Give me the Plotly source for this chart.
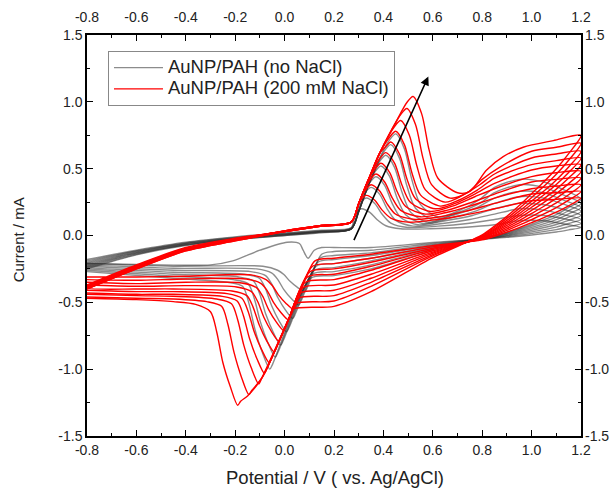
import plotly.graph_objects as go

# ---------------- data ----------------
x_ticks = [-0.8, -0.6, -0.4, -0.2, 0.0, 0.2, 0.4, 0.6, 0.8, 1.0, 1.2]
x_labels = ["-0.8", "-0.6", "-0.4", "-0.2", "0.0", "0.2", "0.4", "0.6", "0.8", "1.0", "1.2"]
y_ticks = [-1.5, -1.0, -0.5, 0.0, 0.5, 1.0, 1.5]
y_labels = ["-1.5", "-1.0", "-0.5", "0.0", "0.5", "1.0", "1.5"]

gray_name = "AuNP/PAH (no NaCl)"
red_name = "AuNP/PAH (200 mM NaCl)"

# forward (anodic) sweeps, no NaCl
gray_fwd_x = [
    [-0.8,-0.6,-0.4,-0.2,0.0,0.15,0.27,0.285,0.31,0.345,0.375,0.41,0.47,0.59,0.72,0.85,0.95,1.05,1.12,1.2],
    [-0.8,-0.6,-0.4,-0.2,0.0,0.15,0.27,0.305,0.33,0.365,0.395,0.43,0.50,0.62,0.74,0.85,0.95,1.05,1.12,1.2],
    [-0.8,-0.6,-0.4,-0.2,0.0,0.15,0.27,0.30,0.325,0.35,0.385,0.415,0.45,0.52,0.64,0.75,0.85,0.95,1.05,1.12,1.2],
    [-0.8,-0.6,-0.4,-0.2,0.0,0.15,0.27,0.30,0.345,0.37,0.405,0.435,0.47,0.54,0.65,0.76,0.85,0.95,1.05,1.12,1.2],
    [-0.8,-0.6,-0.4,-0.2,0.0,0.15,0.27,0.30,0.34,0.365,0.39,0.425,0.455,0.49,0.56,0.67,0.77,0.85,0.95,1.05,1.12,1.2],
    [-0.8,-0.6,-0.4,-0.2,0.0,0.15,0.27,0.30,0.34,0.385,0.41,0.445,0.475,0.51,0.58,0.68,0.78,0.85,0.95,1.05,1.12,1.2],
    [-0.8,-0.6,-0.4,-0.2,0.0,0.15,0.27,0.30,0.34,0.405,0.43,0.465,0.495,0.53,0.60,0.70,0.79,0.85,0.95,1.05,1.12,1.2],
    [-0.8,-0.6,-0.4,-0.2,0.0,0.15,0.27,0.30,0.34,0.39,0.425,0.45,0.485,0.515,0.55,0.62,0.71,0.79,0.85,0.95,1.05,1.12,1.2],
]
gray_fwd_y = [
    [-0.18,-0.11,-0.05,-0.01,0.02,0.04,0.06,0.155,0.20,0.173,0.118,0.073,0.05,0.05,0.06,0.08,0.11,0.11,0.09,0.06],
    [-0.19,-0.115,-0.055,-0.015,0.015,0.035,0.055,0.235,0.28,0.24,0.159,0.093,0.06,0.07,0.09,0.12,0.15,0.15,0.13,0.09],
    [-0.20,-0.12,-0.06,-0.02,0.01,0.03,0.05,0.18,0.315,0.36,0.308,0.20,0.113,0.07,0.09,0.12,0.16,0.20,0.19,0.16,0.12],
    [-0.21,-0.125,-0.06,-0.02,0.01,0.03,0.05,0.18,0.395,0.44,0.375,0.242,0.134,0.08,0.11,0.15,0.20,0.24,0.23,0.20,0.15],
    [-0.22,-0.13,-0.065,-0.025,0.005,0.03,0.05,0.18,0.38,0.475,0.52,0.443,0.283,0.155,0.09,0.13,0.18,0.24,0.29,0.28,0.24,0.18],
    [-0.23,-0.135,-0.07,-0.025,0.005,0.025,0.05,0.18,0.38,0.555,0.60,0.51,0.325,0.175,0.10,0.15,0.21,0.28,0.33,0.32,0.27,0.21],
    [-0.24,-0.14,-0.07,-0.03,0.0,0.025,0.05,0.18,0.38,0.635,0.68,0.579,0.372,0.204,0.12,0.17,0.24,0.32,0.38,0.36,0.31,0.24],
    [-0.25,-0.145,-0.075,-0.03,0.0,0.02,0.05,0.18,0.38,0.60,0.715,0.76,0.648,0.419,0.233,0.14,0.19,0.27,0.36,0.42,0.40,0.35,0.27],
]
# reverse (cathodic) sweeps, no NaCl
gray_rev_x = [
    [1.15,1.1,1.0,0.9,0.8,0.6,0.35,0.2,0.15,0.12,0.095,0.075,0.06,0.01,-0.1,-0.21,-0.3,-0.5,-0.8],
    [1.15,1.1,1.0,0.9,0.8,0.6,0.35,0.2,0.15,0.094,0.082,0.052,0.022,-0.003,-0.028,-0.088,-0.45,-0.8],
    [1.15,1.1,1.0,0.9,0.8,0.6,0.35,0.2,0.143,0.069,0.057,0.027,-0.003,-0.028,-0.053,-0.113,-0.45,-0.8],
    [1.15,1.1,1.0,0.9,0.8,0.6,0.35,0.2,0.135,0.045,0.033,0.003,-0.027,-0.052,-0.077,-0.137,-0.45,-0.8],
    [1.15,1.1,1.0,0.9,0.8,0.6,0.35,0.2,0.128,0.02,0.008,-0.022,-0.052,-0.077,-0.102,-0.162,-0.45,-0.8],
    [1.15,1.1,1.0,0.9,0.8,0.6,0.35,0.2,0.121,-0.004,-0.016,-0.046,-0.076,-0.101,-0.126,-0.186,-0.45,-0.8],
    [1.15,1.1,1.0,0.9,0.8,0.6,0.35,0.2,0.113,-0.026,-0.038,-0.068,-0.098,-0.123,-0.148,-0.208,-0.45,-0.8],
    [1.15,1.1,1.0,0.9,0.8,0.6,0.35,0.2,0.106,-0.048,-0.06,-0.09,-0.12,-0.145,-0.17,-0.23,-0.45,-0.8],
]
gray_rev_y = [
    [0.042,0.026,0.004,-0.014,-0.027,-0.052,-0.09,-0.09,-0.09,-0.11,-0.17,-0.11,-0.06,-0.05,-0.11,-0.19,-0.22,-0.22,-0.21],
    [0.066,0.044,0.016,-0.008,-0.026,-0.06,-0.11,-0.12,-0.14,-0.38,-0.42,-0.388,-0.343,-0.292,-0.26,-0.23,-0.23,-0.21],
    [0.09,0.063,0.027,-0.003,-0.026,-0.068,-0.13,-0.15,-0.17,-0.48,-0.52,-0.472,-0.405,-0.328,-0.28,-0.25,-0.245,-0.22],
    [0.114,0.082,0.038,0.002,-0.025,-0.075,-0.15,-0.18,-0.20,-0.58,-0.62,-0.556,-0.466,-0.364,-0.30,-0.27,-0.26,-0.23],
    [0.138,0.10,0.05,0.008,-0.024,-0.082,-0.17,-0.21,-0.23,-0.68,-0.72,-0.64,-0.528,-0.40,-0.32,-0.29,-0.275,-0.24],
    [0.162,0.119,0.061,0.013,-0.023,-0.09,-0.19,-0.24,-0.26,-0.78,-0.82,-0.724,-0.59,-0.436,-0.34,-0.31,-0.29,-0.25],
    [0.186,0.137,0.073,0.019,-0.022,-0.10,-0.22,-0.27,-0.29,-0.87,-0.91,-0.80,-0.646,-0.47,-0.36,-0.33,-0.305,-0.26],
    [0.21,0.156,0.084,0.024,-0.021,-0.113,-0.25,-0.30,-0.32,-0.96,-1.00,-0.876,-0.702,-0.504,-0.38,-0.35,-0.32,-0.27],
]

# forward (anodic) sweeps, 200 mM NaCl
red_fwd_x = [
    [-0.8,-0.6,-0.4,-0.2,0.0,0.15,0.27,0.305,0.33,0.365,0.395,0.43,0.50,0.62,0.72,0.85,1.0,1.1,1.2],
    [-0.8,-0.6,-0.4,-0.2,0.0,0.15,0.27,0.30,0.325,0.35,0.385,0.415,0.45,0.53,0.63,0.73,0.85,1.0,1.1,1.2],
    [-0.8,-0.6,-0.4,-0.2,0.0,0.15,0.27,0.30,0.345,0.37,0.405,0.435,0.47,0.55,0.65,0.75,0.85,1.0,1.1,1.2],
    [-0.8,-0.6,-0.4,-0.2,0.0,0.15,0.27,0.30,0.34,0.365,0.39,0.425,0.455,0.49,0.57,0.66,0.76,0.85,1.0,1.1,1.2],
    [-0.8,-0.6,-0.4,-0.2,0.0,0.15,0.27,0.30,0.34,0.385,0.41,0.445,0.475,0.51,0.59,0.68,0.77,0.85,1.0,1.1,1.2],
    [-0.8,-0.6,-0.4,-0.2,0.0,0.15,0.27,0.30,0.34,0.386,0.405,0.43,0.465,0.495,0.53,0.61,0.69,0.77,0.85,1.0,1.1,1.2],
    [-0.8,-0.6,-0.4,-0.2,0.0,0.15,0.27,0.30,0.34,0.386,0.425,0.45,0.485,0.515,0.55,0.63,0.70,0.78,0.85,1.0,1.1,1.2],
    [-0.8,-0.6,-0.4,-0.2,0.0,0.15,0.27,0.30,0.34,0.386,0.445,0.47,0.505,0.535,0.57,0.65,0.72,0.79,0.85,1.0,1.1,1.2],
    [-0.8,-0.6,-0.4,-0.2,0.0,0.15,0.27,0.30,0.34,0.386,0.454,0.47,0.495,0.53,0.56,0.595,0.67,0.74,0.80,0.87,1.0,1.1,1.2],
    [-0.8,-0.6,-0.4,-0.2,0.0,0.15,0.27,0.30,0.34,0.386,0.454,0.495,0.52,0.555,0.585,0.62,0.70,0.75,0.818,0.885,0.966,1.088,1.2],
]
red_fwd_y = [
    [-0.37,-0.22,-0.09,-0.02,0.03,0.07,0.10,0.255,0.30,0.264,0.19,0.13,0.10,0.12,0.15,0.20,0.26,0.27,0.28],
    [-0.375,-0.225,-0.095,-0.025,0.03,0.07,0.10,0.24,0.335,0.38,0.333,0.237,0.159,0.12,0.14,0.18,0.24,0.31,0.32,0.33],
    [-0.38,-0.23,-0.10,-0.03,0.03,0.07,0.10,0.24,0.415,0.46,0.40,0.284,0.188,0.14,0.17,0.22,0.28,0.35,0.37,0.38],
    [-0.385,-0.235,-0.10,-0.03,0.03,0.07,0.10,0.24,0.42,0.495,0.54,0.472,0.331,0.217,0.16,0.19,0.25,0.31,0.40,0.42,0.43],
    [-0.39,-0.235,-0.105,-0.03,0.035,0.075,0.10,0.24,0.42,0.575,0.62,0.541,0.378,0.246,0.18,0.22,0.29,0.35,0.44,0.47,0.48],
    [-0.39,-0.24,-0.105,-0.035,0.035,0.075,0.10,0.24,0.42,0.62,0.655,0.70,0.61,0.425,0.275,0.20,0.24,0.31,0.39,0.49,0.52,0.53],
    [-0.395,-0.24,-0.11,-0.035,0.035,0.075,0.10,0.24,0.42,0.62,0.735,0.78,0.68,0.472,0.304,0.22,0.26,0.34,0.43,0.53,0.56,0.58],
    [-0.40,-0.245,-0.11,-0.035,0.035,0.075,0.10,0.24,0.42,0.62,0.815,0.86,0.75,0.524,0.341,0.25,0.30,0.38,0.46,0.58,0.61,0.63],
    [-0.40,-0.25,-0.115,-0.04,0.03,0.075,0.10,0.24,0.42,0.62,0.86,0.905,0.95,0.83,0.581,0.38,0.28,0.32,0.42,0.51,0.63,0.66,0.69],
    [-0.40,-0.25,-0.115,-0.04,0.03,0.075,0.10,0.24,0.42,0.62,0.86,0.995,1.04,0.91,0.64,0.43,0.32,0.33,0.49,0.59,0.66,0.71,0.75],
]
# reverse (cathodic) sweeps, 200 mM NaCl
red_rev_x = [
    [1.15,1.1,1.05,1.0,0.95,0.9,0.85,0.8,0.6,0.35,0.2,0.123,0.047,0.035,0.005,-0.025,-0.05,-0.075,-0.135,-0.4,-0.6,-0.8],
    [1.15,1.1,1.05,1.0,0.95,0.9,0.85,0.8,0.6,0.35,0.2,0.113,0.027,0.015,-0.015,-0.045,-0.07,-0.095,-0.155,-0.4,-0.6,-0.8],
    [1.15,1.1,1.05,1.0,0.95,0.9,0.85,0.8,0.6,0.35,0.2,0.103,0.02,0.008,-0.004,-0.034,-0.064,-0.089,-0.114,-0.174,-0.4,-0.6,-0.8],
    [1.15,1.1,1.05,1.0,0.95,0.9,0.85,0.8,0.6,0.35,0.2,0.093,0.02,-0.012,-0.024,-0.054,-0.084,-0.109,-0.134,-0.194,-0.4,-0.6,-0.8],
    [1.15,1.1,1.05,1.0,0.95,0.9,0.85,0.8,0.6,0.35,0.2,0.084,0.02,-0.031,-0.043,-0.073,-0.103,-0.128,-0.153,-0.213,-0.45,-0.6,-0.8],
    [1.15,1.1,1.05,1.0,0.95,0.9,0.85,0.8,0.6,0.35,0.2,0.074,0.02,-0.051,-0.063,-0.093,-0.123,-0.148,-0.173,-0.233,-0.45,-0.6,-0.8],
    [1.15,1.1,1.05,1.0,0.95,0.9,0.85,0.8,0.6,0.35,0.2,0.064,0.02,-0.07,-0.082,-0.112,-0.142,-0.167,-0.192,-0.252,-0.45,-0.6,-0.8],
    [1.15,1.1,1.05,1.0,0.95,0.9,0.85,0.8,0.6,0.35,0.2,0.054,0.02,-0.093,-0.105,-0.135,-0.165,-0.19,-0.215,-0.275,-0.45,-0.6,-0.8],
    [1.15,1.1,1.05,1.0,0.95,0.9,0.85,0.8,0.6,0.35,0.2,0.045,0.02,-0.09,-0.133,-0.145,-0.175,-0.205,-0.23,-0.255,-0.315,-0.45,-0.6,-0.8],
    [1.15,1.1,1.05,1.0,0.95,0.9,0.85,0.8,0.6,0.35,0.2,0.035,0.02,-0.09,-0.15,-0.178,-0.19,-0.22,-0.25,-0.275,-0.30,-0.36,-0.45,-0.6,-0.8],
]
red_rev_y = [
    [0.222,0.175,0.134,0.096,0.059,0.025,-0.006,-0.033,-0.076,-0.14,-0.17,-0.19,-0.51,-0.55,-0.506,-0.444,-0.374,-0.33,-0.295,-0.305,-0.31,-0.31],
    [0.264,0.209,0.162,0.119,0.077,0.038,0.002,-0.029,-0.085,-0.17,-0.21,-0.23,-0.59,-0.63,-0.576,-0.50,-0.414,-0.36,-0.325,-0.325,-0.335,-0.33],
    [0.305,0.244,0.191,0.142,0.094,0.05,0.01,-0.025,-0.095,-0.20,-0.25,-0.27,-0.61,-0.67,-0.71,-0.646,-0.556,-0.454,-0.39,-0.355,-0.35,-0.36,-0.35],
    [0.347,0.278,0.219,0.165,0.112,0.063,0.018,-0.021,-0.105,-0.23,-0.29,-0.31,-0.61,-0.75,-0.79,-0.716,-0.612,-0.494,-0.42,-0.385,-0.375,-0.38,-0.37],
    [0.388,0.313,0.248,0.188,0.129,0.075,0.026,-0.017,-0.114,-0.26,-0.33,-0.35,-0.61,-0.83,-0.87,-0.786,-0.668,-0.534,-0.45,-0.415,-0.40,-0.40,-0.39],
    [0.43,0.347,0.276,0.211,0.147,0.088,0.034,-0.013,-0.124,-0.29,-0.37,-0.39,-0.61,-0.91,-0.95,-0.854,-0.72,-0.566,-0.47,-0.435,-0.42,-0.42,-0.41],
    [0.471,0.382,0.305,0.234,0.164,0.10,0.042,-0.009,-0.133,-0.32,-0.41,-0.43,-0.61,-0.99,-1.03,-0.922,-0.771,-0.598,-0.49,-0.455,-0.44,-0.44,-0.43],
    [0.513,0.416,0.333,0.257,0.182,0.113,0.05,-0.005,-0.143,-0.35,-0.45,-0.47,-0.61,-1.07,-1.11,-0.99,-0.822,-0.63,-0.51,-0.475,-0.455,-0.45,-0.44],
    [0.563,0.458,0.368,0.285,0.203,0.128,0.06,0.0,-0.152,-0.38,-0.49,-0.51,-0.61,-1.06,-1.16,-1.19,-1.058,-0.873,-0.662,-0.53,-0.495,-0.475,-0.47,-0.46],
    [0.612,0.499,0.402,0.313,0.224,0.143,0.07,0.005,-0.165,-0.42,-0.53,-0.55,-0.61,-1.06,-1.20,-1.24,-1.27,-1.13,-0.95,-0.72,-0.57,-0.515,-0.495,-0.48,-0.47],
]

arrow_tail = [0.278, -0.046]
arrow_head = [0.582, 1.19]

# ---------------- figure ----------------
FONT = "Liberation Sans, Arial, sans-serif"
TXT = "#222"
fig = go.Figure()

for i in range(len(gray_fwd_x)):
    fig.add_trace(go.Scatter(
        x=gray_fwd_x[i] + gray_rev_x[i], y=gray_fwd_y[i] + gray_rev_y[i],
        mode="lines", line=dict(color="rgba(45,45,45,0.55)", width=1.4, shape="spline", smoothing=0.8),
        name='<span style="font-size:18.5px">' + gray_name + "</span>",
        showlegend=(i == 0), hoverinfo="skip"))

for i in range(len(red_fwd_x)):
    fig.add_trace(go.Scatter(
        x=red_fwd_x[i] + red_rev_x[i], y=red_fwd_y[i] + red_rev_y[i],
        mode="lines", line=dict(color="#ff0000", width=1.4, shape="spline", smoothing=0.8),
        name='<span style="font-size:18.5px">' + red_name + "</span>",
        showlegend=(i == 0), hoverinfo="skip"))

# invisible trace so that the mirrored label axes (top / right) are drawn
fig.add_trace(go.Scatter(x=[x_ticks[0]], y=[y_ticks[0]], xaxis="x2", yaxis="y2",
                         mode="markers", marker=dict(opacity=0), showlegend=False, hoverinfo="skip"))

axis_common = dict(showgrid=False, zeroline=False, showline=True, linecolor="black", linewidth=1.5,
                   ticks="inside", ticklen=6, tickwidth=1.3, tickcolor="black", mirror="allticks",
                   automargin=False, tickfont=dict(family=FONT, size=14, color=TXT))

fig.update_layout(
    width=616, height=491,
    margin=dict(l=87, r=35, t=35, b=55),
    plot_bgcolor="white", paper_bgcolor="white",
    font=dict(family=FONT, size=14, color=TXT),
    xaxis=dict(range=[-0.8, 1.2], tickmode="array", tickvals=x_ticks, ticktext=x_labels,
               minor=dict(ticks="inside", ticklen=3, tickwidth=1.1, tickcolor="black", dtick=0.1, tick0=-0.8),
               **axis_common),
    yaxis=dict(range=[-1.5, 1.5], tickmode="array", tickvals=y_ticks, ticktext=y_labels,
               minor=dict(ticks="inside", ticklen=3, tickwidth=1.1, tickcolor="black", dtick=0.25, tick0=-1.5),
               **axis_common),
    xaxis2=dict(range=[-0.8, 1.2], overlaying="x", side="top", anchor="y", tickmode="array",
                tickvals=x_ticks, ticktext=x_labels, ticks="", showline=False, showgrid=False, zeroline=False,
                automargin=False, ticklabelstandoff=9, tickfont=dict(family=FONT, size=14, color=TXT)),
    yaxis2=dict(range=[-1.5, 1.5], overlaying="y", side="right", anchor="x", tickmode="array",
                tickvals=y_ticks, ticktext=y_labels, ticks="", showline=False, showgrid=False, zeroline=False,
                automargin=False, ticklabelstandoff=3, tickfont=dict(family=FONT, size=14, color=TXT)),
    legend=dict(x=0.0425, y=0.96, xanchor="left", yanchor="top", bgcolor="white",
                bordercolor="#888", borderwidth=1, font=dict(family=FONT, size=14, color=TXT),
                itemwidth=49, tracegroupgap=0),
    showlegend=True,
)

fig.add_annotation(x=arrow_head[0], y=arrow_head[1], ax=arrow_tail[0], ay=arrow_tail[1],
                   xref="x", yref="y", axref="x", ayref="y", text="", showarrow=True,
                   arrowhead=2, arrowsize=1.1, arrowwidth=1.6, arrowcolor="black", standoff=0, startstandoff=0)

fig.add_annotation(text="Potential / V ( vs. Ag/AgCl)", xref="paper", yref="paper",
                   x=0.502, y=-0.103, xanchor="center", yanchor="middle", showarrow=False,
                   font=dict(family=FONT, size=18.5, color=TXT))
fig.add_annotation(text="Current / mA", xref="paper", yref="paper",
                   x=-0.138, y=0.49, xanchor="center", yanchor="middle", showarrow=False, textangle=-90,
                   font=dict(family=FONT, size=15, color=TXT))

fig.write_html("out.html", config={"displayModeBar": False},
               post_script="document.body.style.margin='0px';")
